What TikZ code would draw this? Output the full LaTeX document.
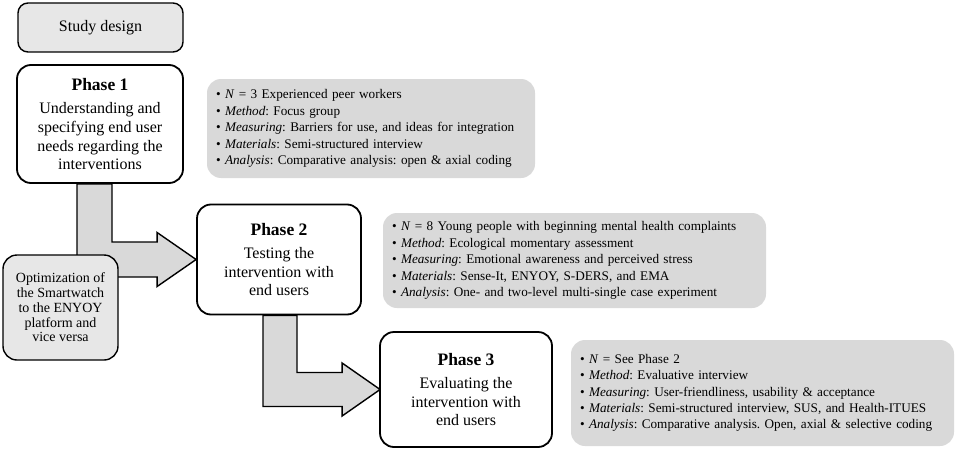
\documentclass[tikz,border=0pt]{standalone}
\usepackage{fontspec}
\setmainfont{Liberation Serif}
\usetikzlibrary{backgrounds}

\definecolor{lightbox}{gray}{0.905}
\definecolor{infogray}{gray}{0.85}

\tikzset{
  phase/.style={draw, line width=1.8pt, rounded corners=14pt, fill=white, align=center,
    font=\fontsize{16}{18.6}\selectfont, inner sep=2pt},
  titlebox/.style={draw, line width=1.4pt, rounded corners=10pt, fill=lightbox,
    font=\fontsize{16}{19}\selectfont},
  sidebox/.style={draw, line width=1.4pt, rounded corners=14pt, fill=lightbox, align=center,
    font=\fontsize{14}{14.7}\selectfont, inner sep=2pt},
  infobox/.style={fill=infogray, rounded corners=14pt, align=left,
    font=\fontsize{13.2}{16.4}\selectfont\frenchspacing, inner xsep=9pt, inner ysep=3pt},
  blockarrow/.style={draw, line width=1.4pt, fill=infogray, line join=miter}
}
\newcommand{\phasehead}[1]{{\bfseries\fontsize{17.5}{20}\selectfont #1}\\[5pt]}

\begin{document}
\begin{tikzpicture}[x=1pt, y=-1pt]
\useasboundingbox (0,0) rectangle (957,452);

\node[titlebox, minimum width=165, minimum height=49] (design) at (100.5, 27.5) {Study design};

\node[phase, minimum width=166, minimum height=118] (p1) at (100, 124)
  {\phasehead{Phase 1}Understanding and\\ specifying end user\\ needs regarding the\\ interventions};
\node[phase, minimum width=164, minimum height=110] (p2) at (279, 259.5)
  {\phasehead{Phase 2}Testing the\\ intervention with\\ end users};
\node[phase, minimum width=172, minimum height=115] (p3) at (466, 389.5)
  {\phasehead{Phase 3}Evaluating the\\ intervention with\\ end users};

\node[sidebox, minimum width=115, minimum height=105] (opt) at (60.5, 307.5)
  {Optimization of\\ the Smartwatch\\ to the ENYOY\\ platform and\\ vice versa};

\node[infobox, text width=310, minimum height=99] (info1) at (371, 128.5)
  {\textbullet\ \textit{N} = 3 Experienced peer workers\\
   \textbullet\ \textit{Method}: Focus group\\
   \textbullet\ \textit{Measuring}: Barriers for use, and ideas for integration\\
   \textbullet\ \textit{Materials}: Semi-structured interview\\
   \textbullet\ \textit{Analysis}: Comparative analysis: open \& axial coding};
\node[infobox, text width=365, minimum height=95] (info2) at (574.5, 260.5)
  {\textbullet\ \textit{N} = 8 Young people with beginning mental health complaints\\
   \textbullet\ \textit{Method}: Ecological momentary assessment\\
   \textbullet\ \textit{Measuring}: Emotional awareness and perceived stress\\
   \textbullet\ \textit{Materials}: Sense-It, ENYOY, S-DERS, and EMA\\
   \textbullet\ \textit{Analysis}: One- and two-level multi-single case experiment};
\node[infobox, text width=365, minimum height=106] (info3) at (762.5, 393)
  {\textbullet\ \textit{N} = See Phase 2\\
   \textbullet\ \textit{Method}: Evaluative interview\\
   \textbullet\ \textit{Measuring}: User-friendliness, usability \& acceptance\\
   \textbullet\ \textit{Materials}: Semi-structured interview, SUS, and Health-ITUES\\
   \textbullet\ \textit{Analysis}: Comparative analysis. Open, axial \& selective coding};

\begin{scope}[on background layer]
\draw[blockarrow] ([shift={(-23,0)}]p1.south) |- ([shift={(-39,17.5)}]p2.west)
  -- ([shift={(-39,27)}]p2.west) -- (p2.west) -- ([shift={(-39,-27)}]p2.west)
  -- ([shift={(-39,-17.5)}]p2.west) -| ([shift={(12,0)}]p1.south) -- cycle;
\draw[blockarrow] ([shift={(-16,0)}]p2.south) |- ([shift={(-37,17)}]p3.west)
  -- ([shift={(-37,26.5)}]p3.west) -- ([shift={(1,0)}]p3.west) -- ([shift={(-37,-26.5)}]p3.west)
  -- ([shift={(-37,-17)}]p3.west) -| ([shift={(18,0)}]p2.south) -- cycle;
\end{scope}

\end{tikzpicture}
\end{document}
